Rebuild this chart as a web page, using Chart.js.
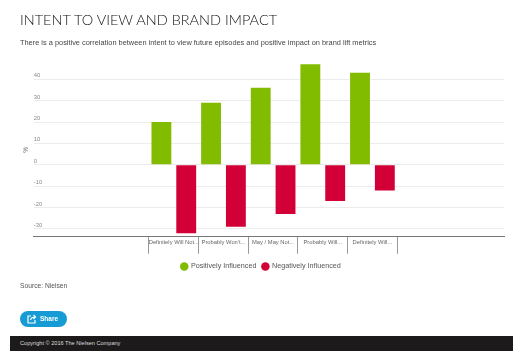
<!DOCTYPE html>
<html><head><meta charset="utf-8">
<script src="https://cdn.jsdelivr.net/npm/chart.js@4"></script>
<style>
html,body{margin:0;padding:0;background:#fff;width:529px;height:361px;overflow:hidden;font-family:"Liberation Sans",Arial,sans-serif}
#c{position:absolute;left:0;top:0}
.t{position:absolute;white-space:nowrap}
#title{left:20px;top:9px;font:300 14.5px/22px Lato,sans-serif;color:#111}
#sub{left:20px;top:37px;font:7.4px/11px "Liberation Sans",sans-serif;color:#444}
#src{left:20px;top:281px;font:6.7px/10px "Liberation Sans",sans-serif;color:#555}
#share{position:absolute;left:20px;top:311px;width:47px;height:16px;border-radius:8px;background:#169bd5;color:#fff;font:bold 6.5px/16px "Liberation Sans",sans-serif}
#share span{position:absolute;left:20px}
#share svg{position:absolute;left:7px;top:3px}
#foot{position:absolute;left:10px;top:336px;width:503px;height:15px;background:#1c1a1a;color:#ddd;font:5.6px/15px "Liberation Sans",sans-serif}
#foot span{margin-left:10px}
</style></head><body>
<canvas id="c" width="529" height="361"></canvas>
<div class="t" id="title">INTENT TO VIEW AND BRAND IMPACT</div>
<div class="t" id="sub">There is a positive correlation between intent to view future episodes and positive impact on brand lift metrics</div>
<div class="t" id="src">Source: Nielsen</div>
<div id="share"><svg width="10" height="10" viewBox="0 0 10 10" fill="none" stroke="#fff" stroke-width="1.2"><path d="M4 2H1v7h7V6"/><path d="M3.5 6C4 4 5.5 3 8 3M6.5 1L8.5 3 6.5 5"/></svg><span>Share</span></div>
<div id="foot"><span>Copyright © 2016 The Nielsen Company</span></div>
<script>
const categories = ["Definitely Will Not...", "Probably Won't...", "May / May Not...", "Probably Will...", "Definitely Will..."];
const positive = [20, 29, 36, 47, 43];
const negative = [-32, -29, -23, -17, -12];
const yTicks = [-30, -20, -10, 0, 10, 20, 30, 40];
const xBounds = [-0.5, 0, 0.5, 1, 1.5, 2, 2.5, 3, 3.5, 4, 4.5];
const toPts = a => a.map((y, x) => ({x, y}));
new Chart(document.getElementById('c'), {
  type: 'bar',
  data: { datasets: [
    { label: 'Positively Influenced', data: toPts(positive), backgroundColor: '#82bc00' },
    { label: 'Negatively Influenced', data: toPts(negative), backgroundColor: '#d20036' }
  ]},
  options: {
    responsive: false, animation: false,
    layout: { padding: { left: 18, right: 25, top: 63, bottom: 81 } },
    datasets: { bar: { barPercentage: 0.8, categoryPercentage: 2 } },
    plugins: {
      tooltip: { enabled: false },
      legend: { position: 'bottom', labels: { usePointStyle: true, pointStyle: 'circle', boxWidth: 6, boxHeight: 6, color: '#555', padding: 6, font: { size: 7.2, family: '"Liberation Sans"' } } }
    },
    scales: {
      x: {
        type: 'linear', min: -2.82, max: 6.65, offset: false,
        afterBuildTicks: s => { s.ticks = xBounds.map(value => ({value})); },
        afterFit: s => { s.height = 20; },
        grid: { offset: false, drawOnChartArea: false, tickLength: 17, tickWidth: 1,
          tickColor: ctx => (ctx.tick && Number.isInteger(ctx.tick.value)) ? 'rgba(0,0,0,0)' : '#999' },
        border: { color: '#777', width: 1 },
        ticks: { autoSkip: false, maxRotation: 0, minRotation: 0, padding: -15, color: '#666',
          font: { size: 5.8, family: '"Liberation Sans"' },
          callback: v => Number.isInteger(v) ? categories[v] : '' }
      },
      y: {
        min: -33.7, max: 47.6,
        afterBuildTicks: s => { s.ticks = yTicks.map(value => ({value})); },
        title: { display: true, text: '%', color: '#666', padding: 4, font: { size: 6.5, family: '"Liberation Sans"' } },
        grid: { color: '#ececec', drawTicks: false },
        border: { display: false },
        ticks: { mirror: true, padding: 0, labelOffset: -3.5, color: '#888', font: { size: 5.8, family: '"Liberation Sans"' } }
      }
    }
  }
});
</script>
</body></html>
